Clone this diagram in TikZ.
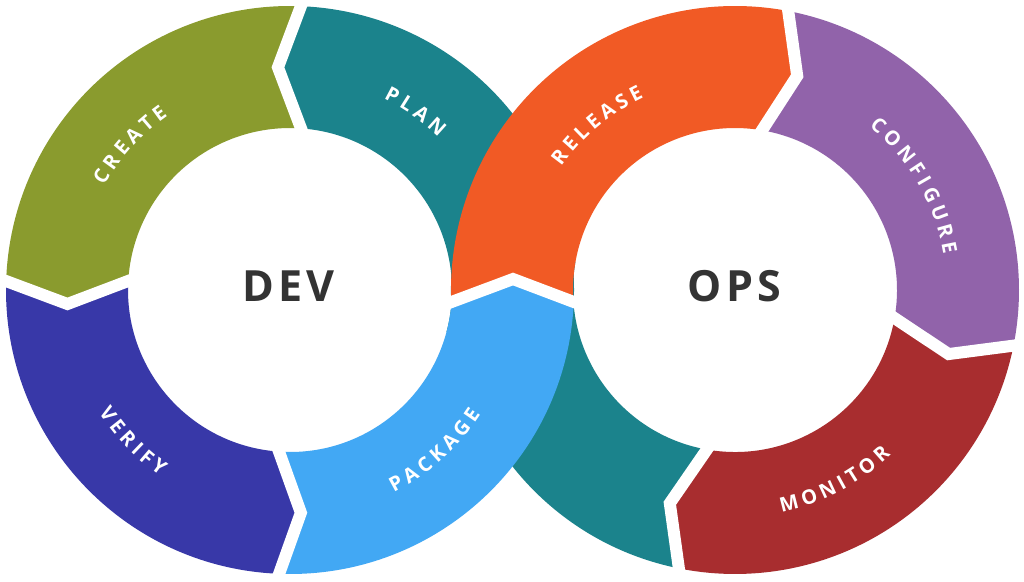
\documentclass[tikz,border=0pt]{standalone}
\usepackage{fontspec}
\setmainfont{Open Sans}
\newfontfamily\stagefam[Scale=2.0]{Open Sans}
\usetikzlibrary{calc,decorations.text}

\definecolor{plancol}{HTML}{1B838C}
\definecolor{createcol}{HTML}{8A9B2E}
\definecolor{verifycol}{HTML}{3838A8}
\definecolor{packagecol}{HTML}{42A8F4}
\definecolor{releasecol}{HTML}{F15A25}
\definecolor{configcol}{HTML}{9163AA}
\definecolor{monitorcol}{HTML}{A82D2F}
\definecolor{hubtext}{HTML}{333333}

\tikzset{
  gap/.style={draw=white, line width=12, line join=miter},
  hub/.style={font=\fontsize{43}{43}\selectfont\bfseries\addfontfeature{LetterSpace=10}, text=hubtext, inner sep=0pt},
  stage/.style={decorate, decoration={text effects along path, text={#1},
      text effects/.cd, text along path,
      every character/.style={font=\stagefam\bfseries, text=white, inner xsep=2.2pt, inner ysep=0pt}}},
}

\begin{document}
\begin{tikzpicture}[x=1pt,y=1pt]

  \path[use as bounding box, fill=white] (0,0) rectangle (1024,581);

  % ops ring, part of the plan band under the crossing
  \begin{scope}[shift={(735,291)}]
    \coordinate (b5o) at (79.2:284);   \coordinate (b5v) at (73.8:223);  \coordinate (b5i) at (80.4:162);
    \coordinate (b6o) at (-11.3:284);  \coordinate (b6v) at (-16.7:223); \coordinate (b6i) at (-10:162);
    \coordinate (b7o) at (-101.4:284); \coordinate (b7v) at (-107:223);  \coordinate (b7i) at (-100:162);

    \fill[plancol] (b7o) arc[start angle=-101.4, end angle=-190, radius=284]
      -- (-190:162) arc[start angle=-190, end angle=-100, radius=162] -- (b7v) -- cycle;
  \end{scope}

  % dev ring
  \begin{scope}[shift={(290,291)}]
    \coordinate (b1o) at (87.8:284);  \coordinate (b1v) at (93.1:223);   \coordinate (b1i) at (86.1:162);
    \coordinate (b2o) at (178.2:284); \coordinate (b2v) at (183.6:223);  \coordinate (b2i) at (176.8:162);
    \coordinate (b3o) at (267.8:284); \coordinate (b3v) at (272.8:223);  \coordinate (b3i) at (266.1:162);
    \coordinate (b4o) at (-2.42:284); \coordinate (b4v) at (2.82:223.3); \coordinate (b4i) at (-4.25:162);

    \fill[plancol] (-15:284) arc[start angle=-15, end angle=87.8, radius=284]
      -- (b1v) -- (b1i) arc[start angle=86.1, end angle=-15, radius=162] -- cycle;
    \fill[createcol] (b1o) arc[start angle=87.8, end angle=178.2, radius=284]
      -- (b2v) -- (b2i) arc[start angle=176.8, end angle=86.1, radius=162] -- (b1v) -- cycle;
    \fill[verifycol] (b2o) arc[start angle=178.2, end angle=267.8, radius=284]
      -- (b3v) -- (b3i) arc[start angle=266.1, end angle=176.8, radius=162] -- (b2v) -- cycle;
    \fill[packagecol] (b3o) arc[start angle=267.8, end angle=357.58, radius=284]
      -- (b4v) -- (b4i) arc[start angle=355.75, end angle=266.1, radius=162] -- (b3v) -- cycle;

    \path[stage={PLAN}] (64.5:213) arc[start angle=64.5, end angle=40, radius=213];
    \path[stage={CREATE}] (151.3:213) arc[start angle=151.3, end angle=115, radius=213];
    \path[stage={VERIFY}] (212:227) arc[start angle=212, end angle=245, radius=227];
    \path[stage={PACKAGE}] (296.6:227.5) arc[start angle=296.6, end angle=340, radius=227.5];
  \end{scope}

  % ops ring
  \begin{scope}[shift={(735,291)}]
    \fill[releasecol] (182.42:284) arc[start angle=182.42, end angle=79.2, radius=284]
      -- (b5v) -- (b5i) arc[start angle=80.4, end angle=184.25, radius=162] -- (b4v) -- cycle;
    \fill[configcol] (b5o) arc[start angle=79.2, end angle=-11.3, radius=284]
      -- (b6v) -- (b6i) arc[start angle=-10, end angle=80.4, radius=162] -- (b5v) -- cycle;
    \fill[monitorcol] (b6o) arc[start angle=-11.3, end angle=-101.4, radius=284]
      -- (b7v) -- (b7i) arc[start angle=-100, end angle=-10, radius=162] -- (b6v) -- cycle;
  \end{scope}

  % white gaps between the stages
  \draw[gap] ($(b1v)!1.35!(b1o)$) -- (b1v) -- ($(b1v)!1.35!(b1i)$);
  \draw[gap] ($(b2v)!1.35!(b2o)$) -- (b2v) -- ($(b2v)!1.35!(b2i)$);
  \draw[gap] ($(b3v)!1.35!(b3o)$) -- (b3v) -- ($(b3v)!1.35!(b3i)$);
  \draw[gap] ($(b4v)!1.3!(b4i)$) -- (b4v) -- ($(b4v)!1.3!(b4o)$);
  \draw[gap] ($(b5v)!1.35!(b5o)$) -- (b5v) -- ($(b5v)!1.35!(b5i)$);
  \draw[gap] ($(b6v)!1.35!(b6o)$) -- (b6v) -- ($(b6v)!1.35!(b6i)$);
  \draw[gap] ($(b7v)!1.35!(b7o)$) -- (b7v) -- ($(b7v)!1.35!(b7i)$);

  \begin{scope}[shift={(735,291)}]
    \path[stage={RELEASE}] (145.3:213) arc[start angle=145.3, end angle=105, radius=213];
    \path[stage={CONFIGURE}] (51.3:211.5) arc[start angle=51.3, end angle=0, radius=211.5];
    \path[stage={MONITOR}] (281.3:227) arc[start angle=281.3, end angle=325, radius=227];
  \end{scope}

  \node[hub] (devhub) at (288.5,294.5) {DEV};
  \node[hub] (opshub) at (734.5,294.5) {OPS};

\end{tikzpicture}
\end{document}
